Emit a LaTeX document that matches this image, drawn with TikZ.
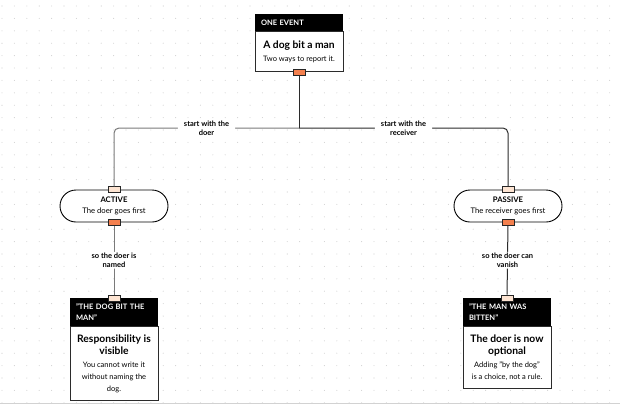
\documentclass[tikz,border=0pt]{standalone}
\usepackage{fontspec}
\setmainfont{Lato}
\usetikzlibrary{positioning}
\definecolor{portout}{HTML}{F4804E}
\definecolor{portin}{HTML}{FDE4D2}
\definecolor{griddot}{HTML}{D2D2D2}
\definecolor{wiregray}{HTML}{7A7A7A}
\definecolor{wiredark}{HTML}{2B2B2B}
\newcommand{\cardtitle}{\bfseries\fontsize{10.3}{14}\selectfont}
\newcommand{\cardsmall}{\normalfont\fontsize{7.5}{11.5}\selectfont}
\tikzset{
  cardhead/.style={fill=black, text=white, font=\bfseries\fontsize{7.5}{10.5}\selectfont,
    text width=76pt, inner xsep=6pt, inner ysep=0pt, align=left, anchor=north},
  cardbody/.style={draw=wiredark, line width=1pt, fill=white, minimum width=88pt,
    inner sep=0pt, align=center},
  stadium/.style={draw=black, line width=0.9pt, fill=white, rounded corners=16pt,
    minimum width=108pt, minimum height=32pt, align=center,
    font=\fontsize{7.7}{11}\selectfont},
  portnode/.style={draw=black!85, line width=0.6pt, minimum width=12pt,
    minimum height=6pt, inner sep=0pt},
  outport/.style={portnode, fill=portout},
  inport/.style={portnode, fill=portin},
  wirelabel/.style={fill=white, inner xsep=6pt, inner ysep=1pt, align=center,
    font=\bfseries\fontsize{7.5}{9}\selectfont},
  leftwire/.style={draw=wiregray, line width=1pt, rounded corners=5pt},
  rightwire/.style={draw=wiredark, line width=1pt, rounded corners=5pt}
}
\begin{document}
\begin{tikzpicture}[x=1pt, y=1pt]
\useasboundingbox (0,0) rectangle (620,-415);
\fill[white] (0,0) rectangle (620,-415);
% dot grid
\foreach \i in {0,...,49}
  \foreach \j in {0,...,32}
    \fill[griddot] (2+12.4*\i,-6-12.4*\j) circle[radius=0.55pt];
\draw[griddot, line width=0.6pt] (0,-403) -- (620,-403);

% the event
\node[cardhead, minimum height=17pt] (eventhead) at (299,-14) {ONE EVENT};
\node[cardbody, minimum height=40pt, below=0pt of eventhead] (event)
  {{\cardtitle A dog bit a man}\\[1pt]{\cardsmall Two ways to report it.}};
\node[outport] (eventout) at (event.south) {};

% the two ways
\node[stadium] (active) at (114,-206) {\textbf{ACTIVE}\\The doer goes first};
\node[inport] (activein) at (active.north) {};
\node[outport] (activeout) at (active.south) {};

\node[stadium] (passive) at (508,-206) {\textbf{PASSIVE}\\The receiver goes first};
\node[inport] (passivein) at (passive.north) {};
\node[outport] (passiveout) at (passive.south) {};

% the results
\node[cardhead, minimum height=28pt] (dogmanhead) at (114,-298)
  {"THE DOG BIT THE\\MAN"};
\node[cardbody, minimum height=74pt, below=0pt of dogmanhead] (dogman)
  {{\cardtitle Responsibility is}\\{\cardtitle visible}\\[1pt]
   {\cardsmall You cannot write it}\\{\cardsmall without naming the}\\{\cardsmall dog.}};
\node[inport] (dogmanin) at (dogmanhead.north) {};

\node[cardhead, minimum height=28pt] (bittenhead) at (507,-298)
  {"THE MAN WAS\\BITTEN"};
\node[cardbody, minimum height=62pt, below=0pt of bittenhead] (bitten)
  {{\cardtitle The doer is now}\\{\cardtitle optional}\\[1pt]
   {\cardsmall Adding "by the dog"}\\{\cardsmall is a choice, not a rule.}};
\node[inport] (bittenin) at (bittenhead.north) {};

% connectors
\coordinate (split) at (299,-128);
\draw[rightwire] (eventout) -- (split);
\draw[leftwire] (split) -| node[pos=0.25, wirelabel] {start with the\\doer} (activein);
\draw[rightwire] (split) -| node[pos=0.25, wirelabel] {start with the\\receiver} (passivein);
\draw[leftwire] (activeout) -- node[wirelabel] {so the doer is\\named} (dogmanin);
\draw[rightwire] (passiveout) -- node[wirelabel] {so the doer can\\vanish} (bittenin);
\end{tikzpicture}
\end{document}
